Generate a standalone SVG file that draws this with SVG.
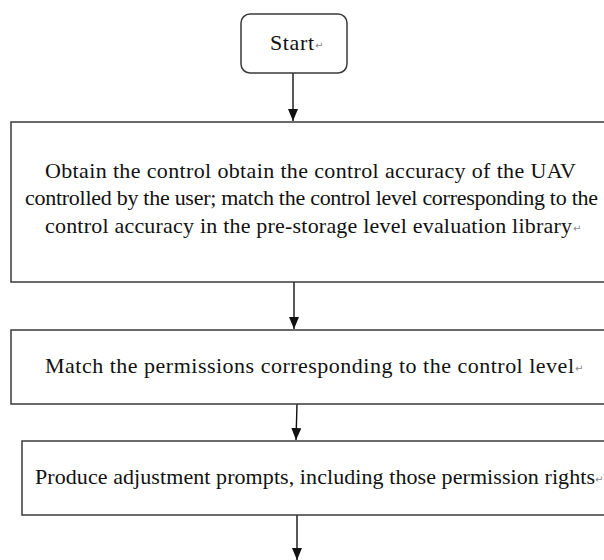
<svg xmlns="http://www.w3.org/2000/svg" width="604" height="560" viewBox="0 0 604 560">
<style>
.box{fill:#ffffff;stroke:#3a3a3a;stroke-width:1.5}
.t{font-family:'Liberation Serif','DejaVu Serif',serif;font-size:22px;fill:#111111}
.pm{font-family:'DejaVu Sans',sans-serif;font-size:10px;fill:#8a8a8a}
.conn{stroke:#111111;stroke-width:1.4;fill:none}
</style>
<defs>
<marker id="ah" markerWidth="12" markerHeight="10" refX="12" refY="5" orient="auto" markerUnits="userSpaceOnUse" viewBox="0 0 12 10">
<path d="M0,0 L12,5 L0,10 Z" fill="#111111"/>
</marker>
</defs>
<rect width="604" height="560" fill="#ffffff"/>
<g id="connectors">
<line class="conn" x1="293" y1="73" x2="293" y2="121" marker-end="url(#ah)"/>
<line class="conn" x1="294" y1="282" x2="294" y2="329" marker-end="url(#ah)"/>
<line class="conn" x1="297" y1="404" x2="296" y2="440" marker-end="url(#ah)"/>
<line class="conn" x1="297" y1="515" x2="297" y2="560" marker-end="url(#ah)"/>
</g>
<g id="start">
<rect class="box" x="241" y="14" width="106" height="59" rx="9" ry="9"/>
<text class="t" font-family="Liberation Serif, serif" x="270" y="50" textLength="44" lengthAdjust="spacing">Start</text>
<text class="pm" x="315" y="49">↵</text>
</g>
<g id="obtain">
<rect class="box" x="11" y="122" width="610" height="160"/>
<text class="t" font-family="Liberation Serif, serif" x="45" y="178" textLength="531" lengthAdjust="spacing">Obtain the control obtain the control accuracy of the UAV</text>
<text class="t" font-family="Liberation Serif, serif" x="25" y="205" textLength="573" lengthAdjust="spacing">controlled by the user; match the control level corresponding to the</text>
<text class="t" font-family="Liberation Serif, serif" x="45" y="233" textLength="527" lengthAdjust="spacing">control accuracy in the pre-storage level evaluation library</text>
<text class="pm" x="573" y="232">↵</text>
</g>
<g id="match">
<rect class="box" x="11" y="330" width="610" height="74"/>
<text class="t" font-family="Liberation Serif, serif" x="45" y="373" textLength="529" lengthAdjust="spacing">Match the permissions corresponding to the control level</text>
<text class="pm" x="575" y="372">↵</text>
</g>
<g id="produce">
<rect class="box" x="22" y="441" width="610" height="74"/>
<text class="t" font-family="Liberation Serif, serif" x="35" y="484" textLength="560" lengthAdjust="spacing">Produce adjustment prompts, including those permission rights</text>
<text class="pm" x="595" y="483">↵</text>
</g>
</svg>
